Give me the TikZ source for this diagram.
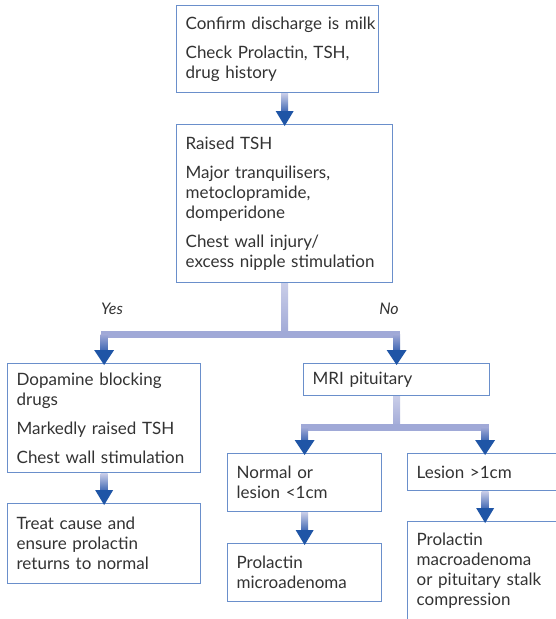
\documentclass[tikz,border=0pt]{standalone}
\usepackage{fontspec}
\setmainfont{Lato}
\usetikzlibrary{calc}
\definecolor{boxblue}{HTML}{6A8FCB}
\definecolor{txt}{HTML}{333333}
\definecolor{adark}{HTML}{1F55A6}
\definecolor{ashaft}{HTML}{3E66B2}
\definecolor{alight}{HTML}{C9CDE8}
\definecolor{amid}{HTML}{A0A9D7}
\tikzset{
  box/.style={draw=boxblue, line width=1.3pt, anchor=north west, align=left,
    inner xsep=9pt, inner ysep=0pt, text=txt, font=\fontsize{17}{20}\selectfont},
  lbl/.style={text=txt, font=\fontsize{16}{18}\selectfont\itshape, anchor=center},
  shaftgrad/.style={top color=alight, bottom color=ashaft},
  branchgrad/.style={top color=amid, bottom color=ashaft},
  stemgrad/.style={top color=alight, bottom color=amid},
  head/.style={fill=adark},
}
\newcommand\mybox[6]{\node[box, text width=#4pt, minimum height=#5pt] (#1) at (#2,#3) {#6};}
\begin{document}
\begin{tikzpicture}[x=1pt,y=-1pt]
\path[use as bounding box] (0,0) rectangle (556,619);
\clip (0,0) rectangle (556,619);
\fill[white] (0,0) rectangle (556,619);

\mybox{b1}{176}{5}{184}{87}{\mbox{Confirm discharge is milk}\\[9pt]Check Prolactin, TSH,\\drug history}
\mybox{b2}{176}{124}{198}{158}{Raised TSH\\[9pt]Major tranquilisers,\\metoclopramide,\\domperidone\\[9pt]Chest wall injury/\\excess nipple stimulation}
\mybox{b3}{7}{363}{175}{109}{Dopamine blocking\\drugs\\[9pt]Markedly raised TSH\\[9pt]Chest wall stimulation}
\mybox{b4}{7}{503}{175}{80}{Treat cause and\\ensure prolactin\\returns to normal}
\mybox{b5}{303}{363}{168}{32}{MRI pituitary}
\mybox{b6}{227}{453}{136}{58}{Normal or\\lesion <1cm}
\mybox{b7}{407}{453}{137}{37}{Lesion >1cm}
\mybox{b8}{227}{543}{136}{58}{Prolactin\\microadenoma}
\mybox{b9}{407}{521}{137}{99}{Prolactin\\macroadenoma\\or pituitary stalk\\compression}

\node[lbl] (yes) at (112,309) {Yes};
\node[lbl] (no) at (389,309) {No};

% b1 -> b2
\shade[shaftgrad] ($(b2.north |- b1.south)+(-3.5,0)$) rectangle ($(b2.north)+(3.5,-12)$);
\fill[head] ($(b2.north)+(-9,-13)$) -- ($(b2.north)+(9,-13)$) -- ($(b2.north)+(0,2)$) -- cycle;

% b2 -> b3, b5
\coordinate (j1) at ($(b2.south)+(0,51)$);
\shade[stemgrad] ($(b2.south)+(-3.5,0)$) rectangle ($(j1)+(3.5,0)$);
\fill[amid] ($(j1 -| b3.north)+(-3.5,-3.5)$) rectangle ($(j1 -| b5.north)+(3.5,3.5)$);
\shade[branchgrad] ($(j1 -| b3.north)+(-3.5,0)$) rectangle ($(b3.north)+(3.5,-12)$);
\fill[head] ($(b3.north)+(-10,-13)$) -- ($(b3.north)+(10,-13)$) -- ($(b3.north)+(0,2)$) -- cycle;
\shade[branchgrad] ($(j1 -| b5.north)+(-3.5,0)$) rectangle ($(b5.north)+(3.5,-12)$);
\fill[head] ($(b5.north)+(-10,-13)$) -- ($(b5.north)+(10,-13)$) -- ($(b5.north)+(0,2)$) -- cycle;

% b3 -> b4
\shade[shaftgrad] ($(b4.north |- b3.south)+(-3.5,0)$) rectangle ($(b4.north)+(3.5,-12)$);
\fill[head] ($(b4.north)+(-9,-13)$) -- ($(b4.north)+(9,-13)$) -- ($(b4.north)+(0,2)$) -- cycle;

% b5 -> b6, b7
\coordinate (j2) at ($(b5.south)+(0,31)$);
\shade[stemgrad] ($(b5.south)+(-3.5,0)$) rectangle ($(j2)+(3.5,0)$);
\fill[amid] ($(j2 -| b6.north)+(-3.5,-3.5)$) rectangle ($(j2 -| b7.north)+(3.5,3.5)$);
\shade[branchgrad] ($(j2 -| b6.north)+(-3.5,0)$) rectangle ($(b6.north)+(3.5,-12)$);
\fill[head] ($(b6.north)+(-10,-13)$) -- ($(b6.north)+(10,-13)$) -- ($(b6.north)+(0,2)$) -- cycle;
\shade[branchgrad] ($(j2 -| b7.north)+(-3.5,0)$) rectangle ($(b7.north)+(3.5,-12)$);
\fill[head] ($(b7.north)+(-10,-13)$) -- ($(b7.north)+(10,-13)$) -- ($(b7.north)+(0,2)$) -- cycle;

% b6 -> b8
\shade[shaftgrad] ($(b8.north |- b6.south)+(-3.5,0)$) rectangle ($(b8.north)+(3.5,-12)$);
\fill[head] ($(b8.north)+(-9,-13)$) -- ($(b8.north)+(9,-13)$) -- ($(b8.north)+(0,2)$) -- cycle;

% b7 -> b9
\shade[shaftgrad] ($(b9.north |- b7.south)+(-3.5,0)$) rectangle ($(b9.north)+(3.5,-12)$);
\fill[head] ($(b9.north)+(-9,-13)$) -- ($(b9.north)+(9,-13)$) -- ($(b9.north)+(0,2)$) -- cycle;
\end{tikzpicture}
\end{document}
